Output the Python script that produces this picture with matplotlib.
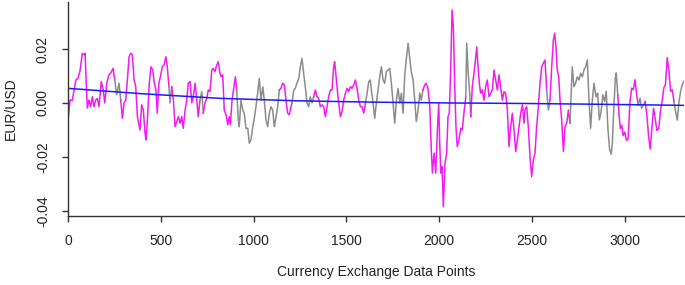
import matplotlib
matplotlib.use('Agg')
import matplotlib.pyplot as plt
import numpy as np

plt.rcParams['font.family'] = ['Liberation Sans', 'DejaVu Sans']

# EUR/USD series (index, value)
x_points = [
    0, 11, 23, 42, 54, 65, 72, 77, 86, 92, 99, 104, 113, 122, 131, 140, 149, 158, 167, 179,
    190, 198, 209, 221, 230, 243, 252, 262, 275, 284, 293, 302, 311, 320, 329, 338, 347, 356, 365, 374,
    388, 397, 406, 415, 420, 427, 438, 447, 457, 465, 474, 481, 490, 500, 508, 517, 528, 535, 544, 550,
    559, 568, 577, 586, 595, 604, 613, 621, 631, 640, 648, 658, 667, 675, 685, 694, 702, 711, 721, 729,
    738, 748, 756, 765, 775, 783, 792, 801, 810, 819, 825, 834, 842, 852, 861, 869, 875, 884, 893, 902,
    909, 918, 923, 932, 942, 950, 959, 969, 977, 986, 996, 1004, 1013, 1022, 1031, 1040, 1050, 1058, 1067, 1076,
    1085, 1094, 1103, 1112, 1121, 1130, 1139, 1148, 1157, 1166, 1175, 1184, 1193, 1202, 1207, 1217, 1225, 1234, 1244, 1252,
    1261, 1270, 1279, 1288, 1297, 1306, 1315, 1324, 1333, 1342, 1351, 1360, 1369, 1378, 1387, 1396, 1405, 1414, 1423, 1432,
    1437, 1445, 1455, 1468, 1477, 1486, 1495, 1504, 1513, 1522, 1531, 1540, 1549, 1558, 1567, 1576, 1585, 1594, 1603, 1612,
    1621, 1629, 1635, 1644, 1653, 1662, 1671, 1680, 1689, 1698, 1707, 1716, 1725, 1734, 1743, 1752, 1761, 1770, 1779, 1788,
    1797, 1806, 1815, 1823, 1833, 1842, 1850, 1860, 1869, 1877, 1887, 1896, 1904, 1913, 1923, 1931, 1940, 1950, 1958, 1964,
    1973, 1982, 1991, 1998, 2003, 2009, 2016, 2023, 2032, 2041, 2048, 2055, 2063, 2070, 2077, 2084, 2091, 2098, 2107, 2117,
    2125, 2134, 2144, 2149, 2156, 2165, 2171, 2179, 2188, 2198, 2203, 2210, 2217, 2224, 2233, 2242, 2251, 2260, 2269, 2278,
    2287, 2296, 2305, 2314, 2323, 2332, 2341, 2350, 2359, 2368, 2377, 2386, 2395, 2404, 2413, 2422, 2431, 2440, 2449, 2458,
    2463, 2472, 2481, 2490, 2499, 2508, 2517, 2526, 2535, 2544, 2553, 2562, 2571, 2580, 2589, 2598, 2607, 2616, 2623, 2630,
    2637, 2645, 2652, 2661, 2670, 2679, 2688, 2697, 2706, 2710, 2718, 2727, 2736, 2745, 2754, 2763, 2772, 2781, 2790, 2799,
    2808, 2817, 2826, 2835, 2846, 2855, 2864, 2873, 2883, 2892, 2901, 2910, 2919, 2928, 2934, 2941, 2950, 2955, 2963, 2970,
    2977, 2985, 2992, 3001, 3010, 3019, 3029, 3038, 3047, 3056, 3065, 3074, 3083, 3092, 3101, 3111, 3120, 3129, 3138, 3147,
    3156, 3165, 3174, 3184, 3193, 3202, 3211, 3220, 3230, 3239, 3248, 3257, 3266, 3275, 3284, 3293, 3302, 3311, 3319,
]
eur_usd = [
    -0.0063, 0.0011, 0.0009, 0.0085, 0.0092, 0.0120, 0.0159, 0.0184, 0.0178, 0.0184, 0.0060, -0.0019, 0.0011, -0.0014, 0.0023, -0.0014, 0.0010, 0.0017, -0.0014, 0.0079,
    0.0048, 0.0000, 0.0074, 0.0104, 0.0110, 0.0128, 0.0085, 0.0030, 0.0073, 0.0010, -0.0057, 0.0000, 0.0010, 0.0085, 0.0171, 0.0184, 0.0178, 0.0085, 0.0060, -0.0051,
    -0.0100, -0.0007, -0.0026, -0.0112, -0.0137, -0.0075, 0.0073, 0.0134, 0.0122, 0.0073, 0.0048, -0.0038, 0.0073, 0.0104, 0.0134, 0.0140, 0.0171, 0.0134, 0.0060, 0.0000,
    0.0060, 0.0010, -0.0088, -0.0069, -0.0051, -0.0075, -0.0051, -0.0094, -0.0026, 0.0010, 0.0073, 0.0079, 0.0000, 0.0023, 0.0073, 0.0010, -0.0051, 0.0010, 0.0042, -0.0038,
    0.0000, 0.0017, 0.0048, 0.0042, 0.0122, 0.0128, 0.0116, 0.0140, 0.0153, 0.0110, 0.0097, 0.0104, -0.0026, -0.0044, -0.0081, -0.0051, -0.0081, 0.0010, 0.0054, 0.0097,
    0.0048, -0.0063, -0.0088, 0.0010, -0.0026, -0.0038, -0.0094, -0.0094, -0.0149, -0.0137, -0.0088, -0.0057, -0.0014, 0.0036, 0.0091, 0.0010, 0.0060, 0.0010, -0.0063, -0.0088,
    -0.0038, -0.0014, -0.0026, -0.0088, -0.0051, -0.0014, 0.0048, 0.0054, 0.0073, 0.0067, 0.0010, -0.0038, -0.0044, -0.0014, 0.0000, 0.0048, 0.0054, 0.0073, 0.0091, 0.0134,
    0.0165, 0.0110, 0.0060, 0.0000, -0.0014, 0.0023, 0.0000, 0.0023, 0.0048, 0.0023, 0.0017, -0.0014, -0.0007, -0.0014, -0.0051, -0.0014, 0.0023, 0.0048, 0.0048, 0.0134,
    0.0153, 0.0097, 0.0023, -0.0051, -0.0032, 0.0010, 0.0036, 0.0054, 0.0042, 0.0060, 0.0054, 0.0067, 0.0085, 0.0054, 0.0010, -0.0014, -0.0014, -0.0038, 0.0000, 0.0036,
    0.0079, 0.0085, 0.0048, 0.0000, -0.0057, 0.0000, 0.0048, 0.0097, 0.0134, 0.0085, 0.0073, 0.0116, 0.0122, 0.0128, 0.0073, 0.0000, -0.0075, 0.0010, 0.0054, 0.0000,
    0.0036, -0.0038, 0.0104, 0.0159, 0.0221, 0.0165, 0.0116, 0.0085, 0.0010, -0.0069, -0.0026, 0.0036, 0.0010, 0.0048, 0.0067, 0.0073, 0.0054, -0.0014, -0.0174, -0.0260,
    -0.0186, -0.0260, -0.0100, 0.0000, -0.0137, -0.0260, -0.0236, -0.0384, -0.0223, -0.0186, -0.0051, -0.0038, 0.0134, 0.0344, 0.0282, 0.0073, -0.0088, -0.0162, -0.0137, -0.0094,
    -0.0100, -0.0038, 0.0023, 0.0221, 0.0122, 0.0036, -0.0051, 0.0060, 0.0110, 0.0171, 0.0208, 0.0134, 0.0073, 0.0036, 0.0048, 0.0010, 0.0060, 0.0085, 0.0023, 0.0036,
    0.0048, 0.0122, 0.0085, 0.0048, 0.0104, 0.0060, 0.0010, 0.0042, 0.0036, -0.0026, -0.0162, -0.0088, -0.0038, -0.0100, -0.0180, -0.0137, -0.0088, -0.0038, -0.0007, -0.0075,
    -0.0026, -0.0014, -0.0088, -0.0199, -0.0273, -0.0211, -0.0186, -0.0088, -0.0014, 0.0073, 0.0134, 0.0147, 0.0159, 0.0048, -0.0026, 0.0010, 0.0134, 0.0233, 0.0258, 0.0208,
    0.0122, 0.0097, 0.0010, -0.0063, -0.0180, -0.0088, -0.0075, -0.0026, -0.0075, 0.0000, 0.0134, 0.0060, 0.0073, 0.0097, 0.0085, 0.0110, 0.0097, 0.0122, 0.0134, 0.0159,
    0.0010, -0.0094, 0.0010, 0.0073, 0.0023, 0.0036, -0.0063, -0.0033, 0.0030, 0.0005, 0.0043, -0.0095, -0.0171, -0.0190, -0.0146, -0.0033, 0.0093, 0.0111, 0.0030, -0.0045,
    -0.0095, -0.0083, -0.0121, -0.0108, -0.0139, -0.0133, 0.0005, 0.0055, 0.0049, 0.0086, 0.0030, -0.0008, 0.0017, -0.0020, -0.0008, 0.0005, -0.0045, -0.0121, -0.0171, -0.0095,
    -0.0020, -0.0058, -0.0102, -0.0095, -0.0033, 0.0005, 0.0055, 0.0068, 0.0168, 0.0118, 0.0043, 0.0049, 0.0005, -0.0033, -0.0064, 0.0005, 0.0043, 0.0068, 0.0080,
]

# index ranges drawn in gray (the rest is magenta)
gray_spans = [(252, 284), (544, 556), (711, 725), (909, 1139), (1207, 1324),
              (1603, 1913), (2144, 2171), (2580, 2598), (2706, 2963),
              (3074, 3111), (3266, 3320)]

# smooth trend line
trend_x = [0, 400, 820, 1230, 1640, 2050, 2460, 2870, 3320]
trend_y = [0.0054, 0.0034, 0.0017, 0.0008, 0.0003, 0.0000, -0.0002, -0.0005, -0.0009]

x_ticks = [0, 500, 1000, 1500, 2000, 2500, 3000]
y_ticks = [-0.04, -0.02, 0.00, 0.02]

fig = plt.figure(figsize=(6.85, 2.85), dpi=100)
ax = fig.add_axes([0.0993, 0.242, 0.8992, 0.751])

x = np.array(x_points)
y = np.array(eur_usd)
mid = (x[:-1] + x[1:]) / 2
is_gray = np.zeros(len(mid), dtype=bool)
for a, b in gray_spans:
    is_gray |= (mid >= a) & (mid <= b)

# draw runs of equal colour so the line stays continuous
start = 0
for i in range(1, len(mid) + 1):
    if i == len(mid) or is_gray[i] != is_gray[start]:
        color = '#8c8c8c' if is_gray[start] else '#f01cf0'
        ax.plot(x[start:i + 1], y[start:i + 1], color=color, lw=1.1)
        start = i

ax.plot(trend_x, trend_y, color='#1a1aff', lw=1.1)

ax.set_xlim(0, 3320)
ax.set_ylim(-0.0419, 0.0374)
ax.set_xticks(x_ticks)
ax.set_yticks(y_ticks)
ax.set_yticklabels(['%.2f' % v for v in y_ticks], rotation=90, va='center')

for side in ['top', 'right']:
    ax.spines[side].set_visible(False)
for side in ['left', 'bottom']:
    ax.spines[side].set_color('#333333')
    ax.spines[side].set_linewidth(1.0)
ax.tick_params(direction='out', length=4, width=1, color='#333333',
               labelsize=10, labelcolor='#222222', pad=9)

ax.set_xlabel('Currency Exchange Data Points', fontsize=10, color='#222222')
ax.set_ylabel('EUR/USD', fontsize=10, color='#222222')
ax.xaxis.set_label_coords(0.5, -0.23)
ax.yaxis.set_label_coords(-0.082, 0.5)

fig.savefig('out.png', dpi=100)
